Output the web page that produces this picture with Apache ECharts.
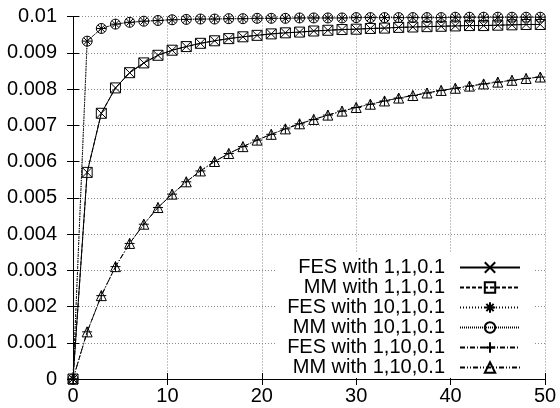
<!DOCTYPE html>
<html>
<head>
<meta charset="utf-8">
<script src="https://cdn.jsdelivr.net/npm/echarts@6/dist/echarts.min.js"></script>
<style>html,body{margin:0;padding:0;background:#fff;}#c{width:560px;height:408px;}</style>
</head>
<body>
<div id="c"></div>
<script>
var xValues = [0,1.5,3,4.5,6,7.5,9,10.5,12,13.5,15,16.5,18,19.5,21,22.5,24,25.5,27,28.5,30,31.5,33,34.5,36,37.5,39,40.5,42,43.5,45,46.5,48,49.5];
var fes_1_1 = [0,0.0057,0.00733,0.00803,0.00845,0.00872,0.00893,0.00907,0.00917,0.00926,0.00933,0.00939,0.00944,0.00948,0.00952,0.00955,0.00957,0.0096,0.00962,0.00964,0.00965,0.00967,0.00968,0.0097,0.00971,0.00972,0.00973,0.00974,0.00975,0.00975,0.00976,0.00977,0.00978,0.00978];
var mm_1_1 = fes_1_1.slice();
var fes_10_1 = [0,0.00932,0.00967,0.00979,0.00984,0.00987,0.00989,0.00991,0.00992,0.00993,0.00993,0.00994,0.00994,0.00995,0.00995,0.00995,0.00996,0.00996,0.00996,0.00996,0.00997,0.00997,0.00997,0.00997,0.00997,0.00997,0.00997,0.00998,0.00998,0.00998,0.00998,0.00998,0.00998,0.00998];
var mm_10_1 = fes_10_1.slice();
var fes_1_10 = [0,0.0013,0.0023,0.0031,0.00374,0.00427,0.00473,0.0051,0.00544,0.00574,0.006,0.00622,0.00641,0.00659,0.00675,0.0069,0.00704,0.00716,0.00728,0.00739,0.00749,0.00758,0.00767,0.00775,0.00782,0.00789,0.00796,0.00802,0.00808,0.00814,0.00819,0.00824,0.00829,0.00833];
var mm_1_10 = fes_1_10.slice();
var seriesNames = ['FES with 1,1,0.1','MM with 1,1,0.1','FES with 10,1,0.1','MM with 10,1,0.1','FES with 1,10,0.1','MM with 1,10,0.1'];
var seriesValues = [fes_1_1, mm_1_1, fes_10_1, mm_10_1, fes_1_10, mm_1_10];
var xTicks = [0,10,20,30,40,50];

var symbols = [
  'path://M0 0L10 10M10 0L0 10',
  'rect',
  'path://M5 0L5 10M0 5L10 5M1.5 1.5L8.5 8.5M8.5 1.5L1.5 8.5',
  'circle',
  'path://M5 0L5 10M0 5L10 5',
  'triangle'
];
var dashes = ['solid', [4,2], [1,2], [1,1], [5,2,1,2], [5,2,1,2,1,2]];
var font = 'Liberation Sans, Arial, Helvetica, sans-serif';

function pairs(vals){ return xValues.map(function(x,i){ return [x, vals[i]]; }); }

var series = seriesNames.map(function(n, i){
  return {
    name: n, type: 'line', data: pairs(seriesValues[i]),
    symbol: symbols[i], symbolSize: 10, showAllSymbol: true,
    lineStyle: {color:'#000', width:1, type: dashes[i]},
    itemStyle: {color:'rgba(0,0,0,0)', borderColor:'#000', borderWidth:1},
    emphasis: {disabled:true}, animation:false, z: 3 + i
  };
});

var chart = echarts.init(document.getElementById('c'), null, {renderer:'canvas'});
chart.setOption({
  animation:false,
  backgroundColor:'#fff',
  grid:{left:73, right:15, top:16.5, bottom:29, show:false},
  xAxis:[{
    type:'value', min:0, max:50, interval:10,
    axisLine:{show:true, lineStyle:{color:'#000', width:1}},
    axisTick:{show:true, inside:true, length:6, lineStyle:{color:'#000'}},
    axisLabel:{color:'#000', fontSize:20, fontFamily:font, margin:7},
    splitLine:{show:true, lineStyle:{color:'#888', width:1, type:[1,2]}}
  },{
    type:'value', min:0, max:50, interval:10, position:'top',
    axisLine:{show:true, lineStyle:{color:'#000', width:1}},
    axisTick:{show:true, inside:true, length:6, lineStyle:{color:'#000'}},
    axisLabel:{show:false}, splitLine:{show:false}
  }],
  yAxis:[{
    type:'value', min:0, max:0.01, interval:0.001,
    axisLine:{show:true, lineStyle:{color:'#000', width:1}},
    axisTick:{show:true, inside:true, length:6, lineStyle:{color:'#000'}},
    axisLabel:{color:'#000', fontSize:20, fontFamily:font, margin:16},
    splitLine:{show:true, lineStyle:{color:'#888', width:1, type:[1,2]}}
  },{
    type:'value', min:0, max:0.01, interval:0.001, position:'right',
    axisLine:{show:true, lineStyle:{color:'#000', width:1}},
    axisTick:{show:true, inside:true, length:6, lineStyle:{color:'#000'}},
    axisLabel:{show:false}, splitLine:{show:false}
  }],
  legend:{
    data: seriesNames, orient:'vertical', align:'right',
    right:27, bottom:30, itemWidth:60, itemHeight:13, itemGap:-1,
    padding:[4,12,0,12], backgroundColor:'#fff',
    textStyle:{color:'#000', fontSize:20, fontFamily:font, lineHeight:21, padding:[0,10,0,0]},
    selectedMode:false, z:10
  },
  series: series
});
</script>
</body>
</html>
